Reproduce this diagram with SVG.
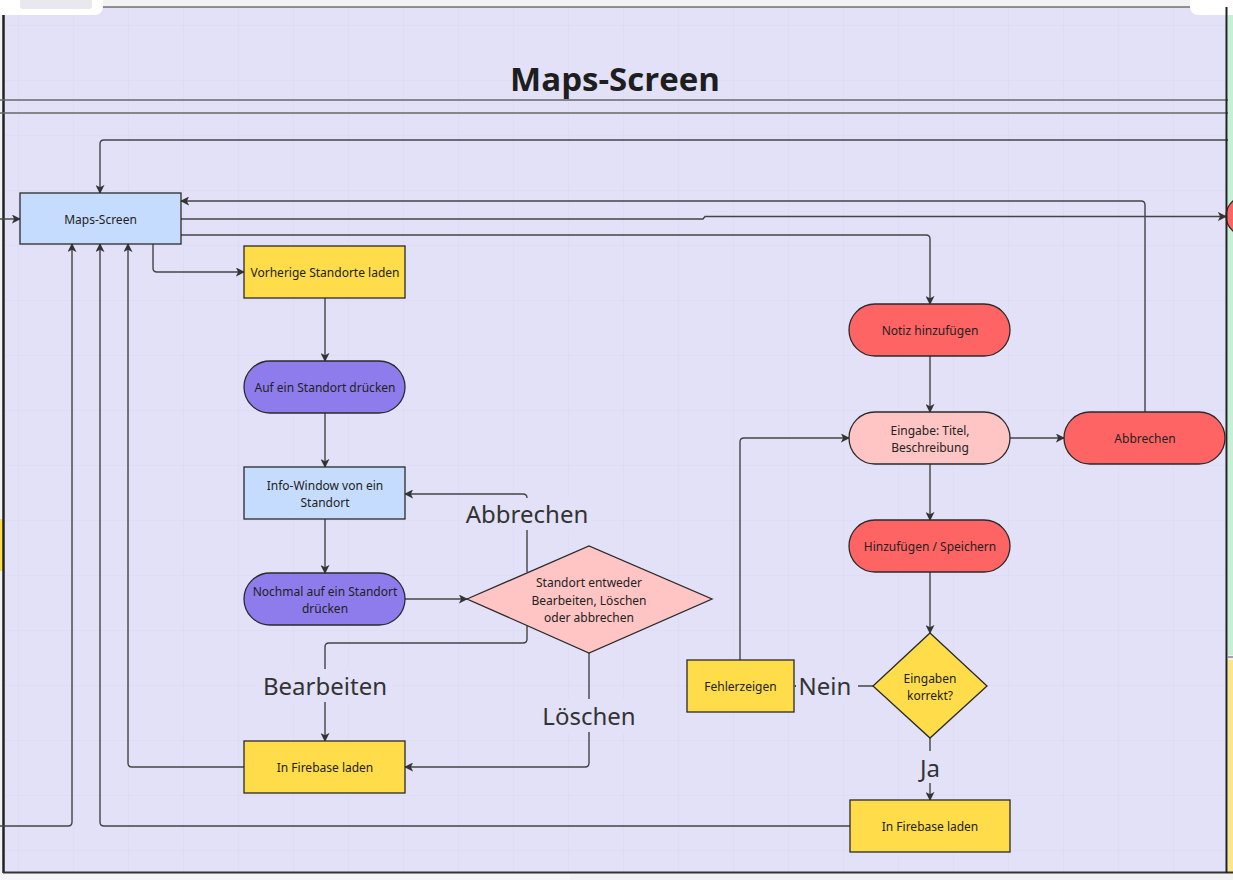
<svg xmlns="http://www.w3.org/2000/svg" width="1233" height="880" viewBox="0 0 1233 880">
<defs>
<style>
.n{stroke:#2a2a2a;stroke-width:1.3}
.blue{fill:#c6dcfe}.yel{fill:#ffdc4a}.pur{fill:#8e7cec}.pink{fill:#ffc4c4}.red{fill:#ff6464}
.t{font-family:"Noto Sans","Open Sans",sans-serif;font-size:12px;fill:#222;text-anchor:middle;dominant-baseline:central}
.lbl{font-family:"Noto Sans","Open Sans",sans-serif;font-size:24px;fill:#333;text-anchor:middle;dominant-baseline:central}
.e{fill:none;stroke:#444;stroke-width:1.4}
.ea{fill:none;stroke:#444;stroke-width:1.4;marker-end:url(#ah)}
.lb{fill:#e3e1f8}
</style>
<marker id="ah" viewBox="0 0 10 10" refX="9" refY="5" markerWidth="9" markerHeight="9" markerUnits="userSpaceOnUse" orient="auto">
<path d="M0,0 L10,5 L0,10 L2.5,5 Z" fill="#333"/>
</marker>
<pattern id="grid" x="18" y="25" width="55" height="55" patternUnits="userSpaceOnUse">
<path d="M0,0 H55 M0,0 V55" fill="none" stroke="#dad8f0" stroke-width="0.8"/>
</pattern>
</defs>
<rect x="0" y="0" width="1233" height="880" fill="#f2f2f4"/>
<rect x="3" y="7" width="1224" height="866" fill="#e3e1f8"/>
<rect x="3" y="7" width="1224" height="866" fill="url(#grid)"/>
<rect x="1228" y="15" width="5" height="640" fill="#c4f0d6"/>
<rect x="1228" y="660" width="5" height="213" fill="#fde58a"/>
<line x1="1228" y1="657" x2="1233" y2="657" stroke="#555" stroke-width="1"/>
<rect x="0" y="519" width="3" height="52" fill="#ffdc4a"/>
<line x1="3" y1="7" x2="1227" y2="7" stroke="#333" stroke-width="1"/>
<line x1="3.5" y1="7" x2="3.5" y2="873" stroke="#222" stroke-width="2.5"/>
<line x1="3" y1="872.5" x2="1233" y2="872.5" stroke="#333" stroke-width="2"/>
<rect x="0" y="874" width="570" height="6" fill="#f6f6f8"/>
<rect x="-10" y="-10" width="113" height="25" rx="8" fill="#ffffff"/>
<rect x="20" y="-5" width="72" height="14" rx="3" fill="#e8e8ee"/>
<rect x="1190" y="-10" width="60" height="25" rx="8" fill="#ffffff"/>
<line x1="0" y1="100" x2="1233" y2="100" stroke="#666" stroke-width="1.3"/>
<line x1="0" y1="113" x2="1233" y2="113" stroke="#666" stroke-width="1.3"/>
<text x="615" y="78" font-family="'Open Sans','Noto Sans',sans-serif" font-size="33" font-weight="bold" fill="#1e1e1e" text-anchor="middle" dominant-baseline="central">Maps-Screen</text>

<g id="connectors">
<path class="ea" d="M0,219 H20"/>
<path class="ea" d="M1233,140 H104 Q100,140 100,144 V193"/>
<path class="ea" d="M1145,412 V205 Q1145,201 1141,201 H181"/>
<path class="ea" d="M181,219 H703 L705,216.5 H1226"/>
<path class="ea" d="M181,235 H926 Q930,235 930,239 V304"/>
<path class="ea" d="M153,244 V268 Q153,272 157,272 H244"/>
<path class="ea" d="M325,298 V361"/>
<path class="ea" d="M325,413 V467"/>
<path class="ea" d="M325,519 V573"/>
<path class="ea" d="M405,599 H467"/>
<path class="ea" d="M527,572 V498 Q527,494 523,494 H405"/>
<path class="ea" d="M527,626 V639 Q527,643 523,643 H329 Q325,643 325,647 V741"/>
<path class="ea" d="M589,653 V763 Q589,767 585,767 H405"/>
<path class="ea" d="M244,767 H132 Q128,767 128,763 V244"/>
<path class="ea" d="M850,826 H104 Q100,826 100,822 V244"/>
<path class="ea" d="M0,826 H68 Q72,826 72,822 V244"/>
<path class="ea" d="M930,356 V412"/>
<path class="ea" d="M1010,438 H1064"/>
<path class="ea" d="M930,464 V520"/>
<path class="ea" d="M930,572 V633"/>
<path class="ea" d="M873,686 H795"/>
<path class="ea" d="M740,660 V442 Q740,438 744,438 H849"/>
<path class="ea" d="M930,738 V800"/>
<rect class="lb" x="462" y="498" width="130" height="32"/>
<text class="lbl" x="527" y="513">Abbrechen</text>
<rect class="lb" x="258" y="669" width="134" height="33"/>
<text class="lbl" x="325" y="685">Bearbeiten</text>
<rect class="lb" x="538" y="699" width="102" height="33"/>
<text class="lbl" x="589" y="715">Löschen</text>
<rect class="lb" x="796" y="670" width="62" height="32"/>
<text class="lbl" x="825" y="685">Nein</text>
<rect class="lb" x="915" y="751" width="30" height="32"/>
<text class="lbl" x="930" y="767">Ja</text>
</g>

<g id="maps-screen"><rect class="n blue" x="20" y="193" width="161" height="51"/><text class="t" x="100.5" y="219">Maps-Screen</text></g>
<g id="red-circle"><ellipse class="n red" cx="1252" cy="216" rx="26" ry="22"/></g>
<g id="vorherige"><rect class="n yel" x="244" y="246" width="161" height="52"/><text class="t" x="325" y="272">Vorherige Standorte laden</text></g>
<g id="auf-standort"><rect class="n pur" x="244" y="361" width="161" height="52" rx="26"/><text class="t" x="325" y="387">Auf ein Standort drücken</text></g>
<g id="info-window"><rect class="n blue" x="244" y="467" width="161" height="52"/><text class="t" x="325" y="485">Info-Window von ein</text><text class="t" x="325" y="502">Standort</text></g>
<g id="nochmal"><rect class="n pur" x="244" y="573" width="161" height="52" rx="26"/><text class="t" x="325" y="591">Nochmal auf ein Standort</text><text class="t" x="325" y="608">drücken</text></g>
<g id="entscheidung"><path class="n pink" d="M467,599 L589,546 L712,599 L589,653 Z"/><text class="t" x="589" y="582">Standort entweder</text><text class="t" x="589" y="600">Bearbeiten, Löschen</text><text class="t" x="589" y="617">oder abbrechen</text></g>
<g id="firebase-links"><rect class="n yel" x="244" y="741" width="161" height="52"/><text class="t" x="325" y="767">In Firebase laden</text></g>
<g id="notiz"><rect class="n red" x="849" y="304" width="161" height="52" rx="26"/><text class="t" x="930" y="330">Notiz hinzufügen</text></g>
<g id="eingabe"><rect class="n pink" x="849" y="412" width="161" height="52" rx="26"/><text class="t" x="930" y="430">Eingabe: Titel,</text><text class="t" x="930" y="447">Beschreibung</text></g>
<g id="abbrechen"><rect class="n red" x="1064" y="412" width="161" height="52" rx="26"/><text class="t" x="1145" y="438">Abbrechen</text></g>
<g id="hinzufuegen"><rect class="n red" x="849" y="520" width="161" height="52" rx="26"/><text class="t" x="930" y="546">Hinzufügen / Speichern</text></g>
<g id="korrekt"><path class="n yel" d="M930,633 L987,686 L930,738 L873,686 Z"/><text class="t" x="930" y="678">Eingaben</text><text class="t" x="930" y="695">korrekt?</text></g>
<g id="fehler"><rect class="n yel" x="687" y="660" width="107" height="52"/><text class="t" x="740.5" y="686">Fehlerzeigen</text></g>
<g id="firebase-rechts"><rect class="n yel" x="850" y="800" width="160" height="52"/><text class="t" x="930" y="826">In Firebase laden</text></g>
<line x1="1226.5" y1="7" x2="1226.5" y2="873" stroke="#222" stroke-width="2"/>
<rect x="1228" y="15" width="5" height="180" fill="#c4f0d6"/>
<rect x="1228" y="238" width="5" height="417" fill="#c4f0d6"/>
</svg>
